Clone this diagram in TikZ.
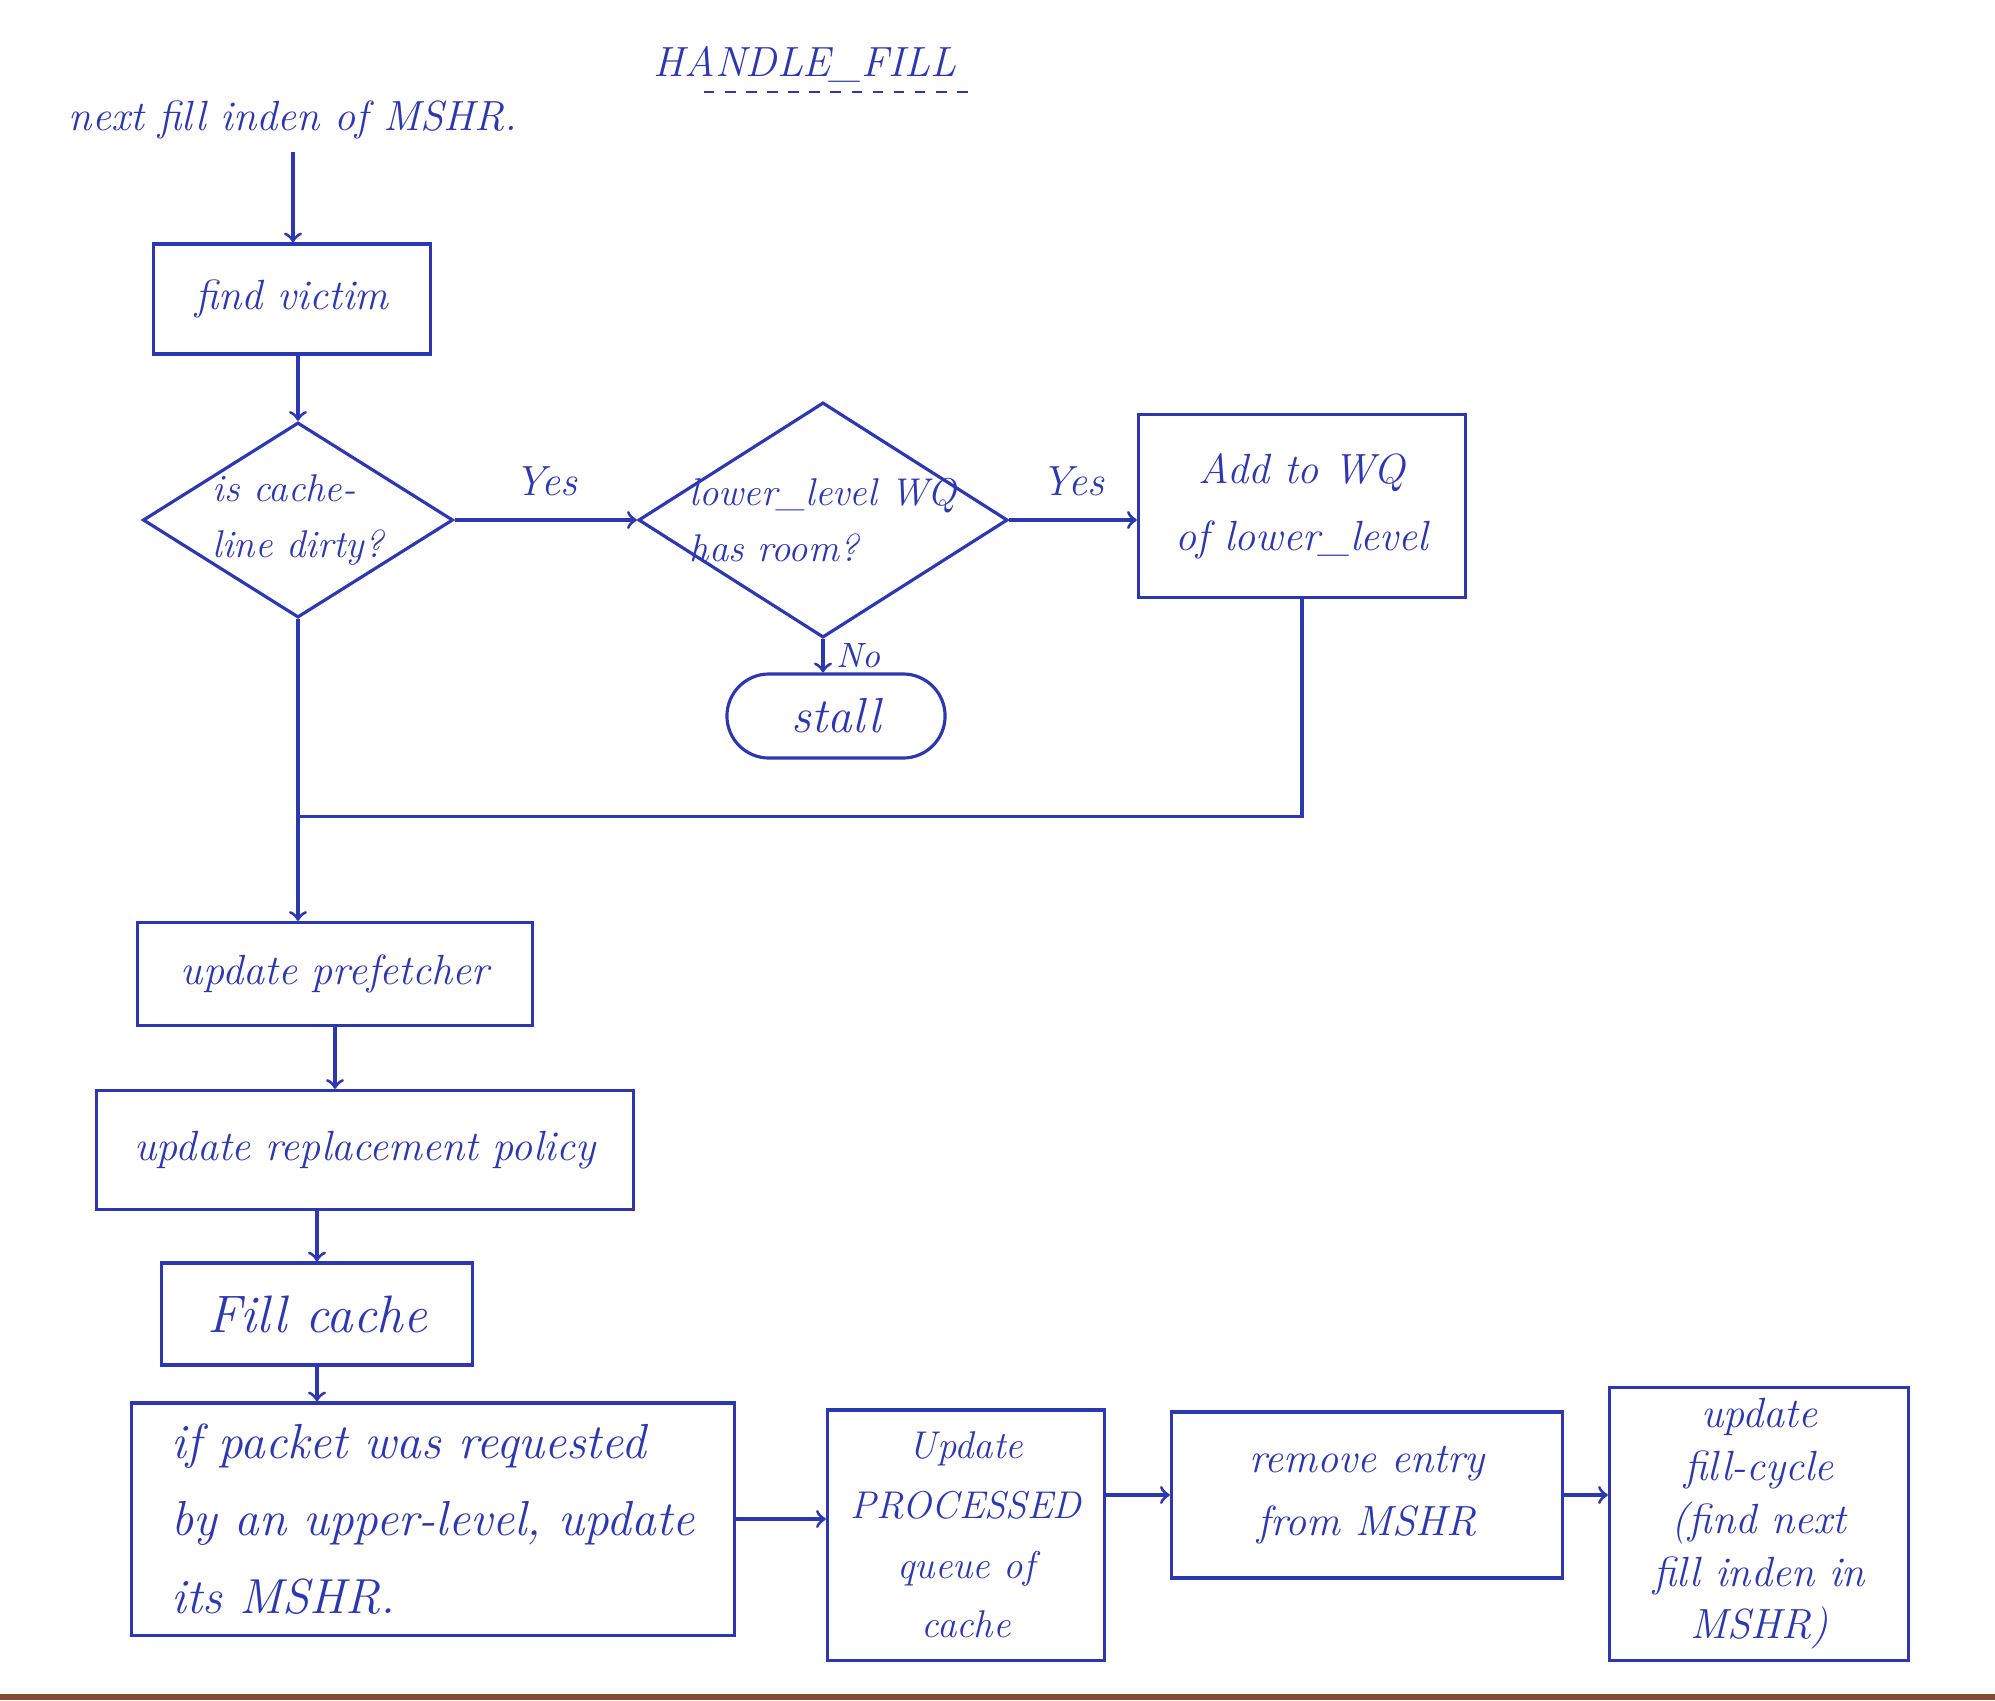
\documentclass[tikz,border=0pt]{standalone}
\usetikzlibrary{shapes.geometric}

\definecolor{ink}{RGB}{45,55,175}
\definecolor{photoedge}{RGB}{130,75,50}

\tikzset{
  box/.style={draw=ink, text=ink, align=center, inner sep=2pt,
    font=\itshape\fontsize{12}{18}\selectfont},
  decision/.style={diamond, draw=ink, text=ink, align=left, inner sep=-3pt,
    aspect=1.6, font=\itshape\fontsize{11}{16}\selectfont},
  note/.style={text=ink, font=\itshape\fontsize{12}{15}\selectfont},
  flow/.style={draw=ink, ->},
  wire/.style={draw=ink}
}

\begin{document}
\begin{tikzpicture}[x=0.01cm, y=-0.01cm, line width=0.9pt]
    \useasboundingbox (0,0) rectangle (1995,1700);

    % title and entry point
    \node[note] (title) at (805,64) {HANDLE\_FILL};
    \draw[ink, line width=0.6pt, dash pattern=on 3pt off 3pt] ([xshift=18pt, yshift=1pt]title.south west) -- ([yshift=1pt]title.south east);
    \node[note] (start) at (293,120) {next fill inden of MSHR.};

    % upper part
    \node[box, minimum width=2.77cm, minimum height=1.10cm] (victim) at (292,299) {find victim};
    \node[decision, minimum width=3.10cm, minimum height=1.95cm] (dirty) at (298,520) {is cache-\\line dirty?};
    \node[decision, minimum width=3.69cm, minimum height=2.35cm] (room) at (823,520) {lower\_level WQ\\has room?};
    \node[box, minimum width=3.27cm, minimum height=1.83cm, font=\itshape\fontsize{12}{19}\selectfont] (addwq) at (1302,506) {Add to WQ\\of lower\_level};
    \node[box, rounded corners=0.42cm, minimum width=2.18cm, minimum height=0.84cm, font=\itshape\fontsize{14}{18}\selectfont] (stall) at (836,716) {stall};

    % left column
    \node[box, minimum width=3.95cm, minimum height=1.03cm] (prefetch) at (335,974) {update prefetcher};
    \node[box, minimum width=5.37cm, minimum height=1.19cm] (policy) at (365,1150) {update replacement policy};
    \node[box, minimum width=3.11cm, minimum height=1.02cm, font=\itshape\fontsize{15}{18}\selectfont] (fill) at (317,1314) {Fill cache};

    % bottom row
    \node[box, align=left, minimum width=6.03cm, minimum height=2.32cm, font=\itshape\fontsize{14}{22}\selectfont] (packet) at (433,1519) {if packet was requested\\by an upper-level, update\\its MSHR.};
    \node[box, minimum width=2.77cm, minimum height=2.50cm, font=\itshape\fontsize{11}{17}\selectfont] (processed) at (966,1535) {Update\\PROCESSED\\queue of\\cache};
    \node[box, minimum width=3.91cm, minimum height=1.66cm] (remove) at (1367,1495) {remove entry\\from MSHR};
    \node[box, minimum width=2.99cm, minimum height=2.73cm, font=\itshape\fontsize{12}{15}\selectfont] (cycle) at (1759,1524) {update\\fill-cycle\\(find next\\fill inden in\\MSHR)};

    % connectors
    \draw[flow] (start) -- (start |- victim.north);
    \draw[flow] (dirty.north |- victim.south) -- (dirty.north);
    \draw[flow] (dirty.east) -- node[note, above=3pt] (yesdirty) {Yes} (room.west);
    \draw[flow] (room.east) -- node[note, above=3pt] (yesroom) {Yes} (room.east -| addwq.west);
    \draw[flow] (room.south) -- node[note, right, font=\itshape\fontsize{10}{12}\selectfont] (noroom) {No} (room.south |- stall.north);

    \path (dirty.south) ++(0,197) coordinate (join);
    \draw[wire] (addwq.south) |- (join);
    \draw[flow] (dirty.south) -- (dirty.south |- prefetch.north);

    \draw[flow] (prefetch.south) -- (prefetch.south |- policy.north);
    \draw[flow] (fill.north |- policy.south) -- (fill.north);
    \draw[flow] (fill.south) -- (fill.south |- packet.north);
    \draw[flow] (packet.east) -- (packet.east -| processed.west);
    \draw[flow] (remove.west -| processed.east) -- (remove.west);
    \draw[flow] (remove.east) -- (remove.east -| cycle.west);

    % photo edge
    \fill[photoedge] (0,1694) rectangle (1995,1700);
\end{tikzpicture}
\end{document}
